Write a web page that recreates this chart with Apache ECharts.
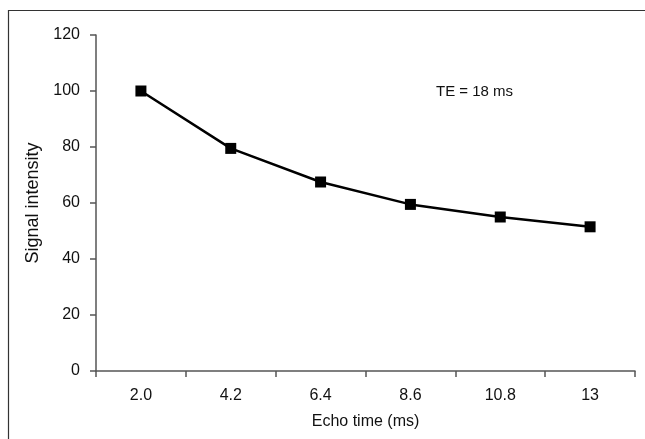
<!DOCTYPE html>
<html>
<head>
<meta charset="utf-8">
<script src="https://cdn.jsdelivr.net/npm/echarts@6/dist/echarts.min.js"></script>
<style>html,body{margin:0;padding:0;background:#fff;}#c{width:645px;height:439px;}</style>
</head>
<body>
<div id="c"></div>
<script>
const categories = ['2.0', '4.2', '6.4', '8.6', '10.8', '13'];
const signal = [100, 79.5, 67.5, 59.5, 55, 51.5];
const yTicks = { min: 0, max: 120, interval: 20 };
const xTitle = 'Echo time (ms)';
const yTitle = 'Signal intensity';
const note = 'TE = 18 ms';

const font = 'Liberation Sans, Arial, sans-serif';
const chart = echarts.init(document.getElementById('c'), null, { renderer: 'canvas' });
chart.setOption({
  animation: false,
  backgroundColor: '#fff',
  grid: { left: 96, right: 10, top: 35, bottom: 68 },
  graphic: [
    { type: 'rect', shape: { x: 8.5, y: 10.5, width: 700, height: 500 },
      style: { fill: null, stroke: '#333', lineWidth: 1.2 } },
    { type: 'text', left: 436, top: 84,
      style: { text: note, font: '15px ' + font, fill: '#111' } }
  ],
  xAxis: {
    type: 'category',
    data: categories,
    boundaryGap: true,
    name: xTitle,
    nameLocation: 'middle',
    nameGap: 43,
    nameTextStyle: { fontFamily: font, fontSize: 16, color: '#111' },
    axisLine: { lineStyle: { color: '#555', width: 1.5 } },
    axisTick: { show: true, alignWithLabel: false, length: 6, lineStyle: { color: '#555', width: 1.5 } },
    axisLabel: { fontFamily: font, fontSize: 16, color: '#111', margin: 17 },
    splitLine: { show: false }
  },
  yAxis: {
    type: 'value',
    min: yTicks.min, max: yTicks.max, interval: yTicks.interval,
    name: yTitle,
    nameLocation: 'middle',
    nameGap: 52,
    nameRotate: 90,
    nameTextStyle: { fontFamily: font, fontSize: 18, color: '#111' },
    axisLine: { show: true, lineStyle: { color: '#555', width: 1.5 } },
    axisTick: { show: true, length: 6, lineStyle: { color: '#555', width: 1.5 } },
    axisLabel: { fontFamily: font, fontSize: 16, color: '#111', margin: 16 },
    splitLine: { show: false }
  },
  series: [{
    type: 'line',
    data: signal,
    symbol: 'rect',
    symbolSize: 11,
    lineStyle: { color: '#000', width: 2.5 },
    itemStyle: { color: '#000' }
  }]
});
</script>
</body>
</html>
